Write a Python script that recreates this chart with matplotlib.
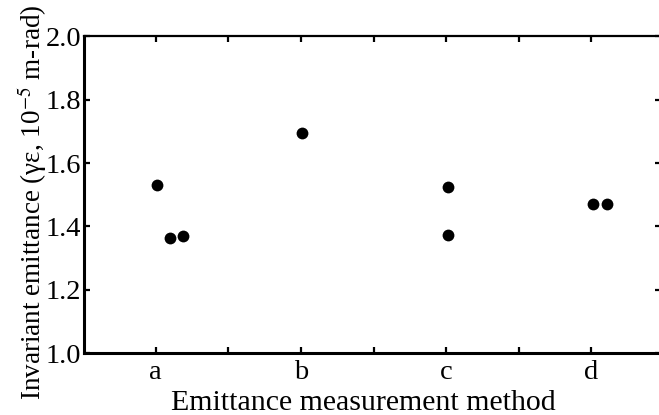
import matplotlib
matplotlib.use("Agg")
import matplotlib.pyplot as plt
from matplotlib.ticker import MultipleLocator

plt.rcParams['font.family'] = ['Liberation Serif', 'DejaVu Serif']
plt.rcParams['mathtext.fontset'] = 'stix'

methods = ['a', 'b', 'c', 'd']
method_pos = [1, 2, 3, 4]
# measured points: x position (method index with small offsets as drawn) and emittance
point_x = [1.01, 1.10, 1.19, 2.01, 3.01, 3.01, 4.01, 4.11]
point_y = [1.53, 1.362, 1.369, 1.696, 1.525, 1.373, 1.471, 1.471]
y_ticks = [1.0, 1.2, 1.4, 1.6, 1.8, 2.0]

W, H = 659, 415
left, right, top, bottom = 84, 661, 36.5, 353
fig = plt.figure(figsize=(W/100, H/100), dpi=100)
ax = fig.add_axes([left/W, (H-bottom)/H, (right-left)/W, (bottom-top)/H])

ax.plot(point_x, point_y, 'o', color='black', markersize=8.5, markeredgewidth=0)

ax.set_xlim(0.506, 4.48)
ax.set_ylim(1.0, 2.0)
ax.set_xticks(method_pos)
ax.set_xticklabels(methods)
ax.xaxis.set_minor_locator(MultipleLocator(0.5))
ax.set_yticks(y_ticks)
ax.set_yticklabels([f"{v:.1f}" for v in y_ticks])

ax.tick_params(axis='both', which='both', direction='in', length=4, width=1.6,
               top=True, right=True, labelsize=20.5, pad=2)
ax.tick_params(axis='x', which='major', pad=5)

ax.spines['left'].set_linewidth(2.2)
ax.spines['bottom'].set_linewidth(2.2)
ax.spines['top'].set_linewidth(1.6)
ax.spines['right'].set_visible(False)

ax.set_xlabel('Emittance measurement method', fontsize=21.5, va='center')
ax.xaxis.set_label_coords((363-left)/(right-left), (bottom-403)/(bottom-top))
ax.set_ylabel('Invariant emittance (γε, 10$^{-5}$ m-rad)', fontsize=19.5,
              va='center', ha='center', rotation_mode='anchor')
ax.yaxis.set_label_coords((32-left)/(right-left), (bottom-202.5)/(bottom-top))

fig.savefig('out.png', dpi=100)
